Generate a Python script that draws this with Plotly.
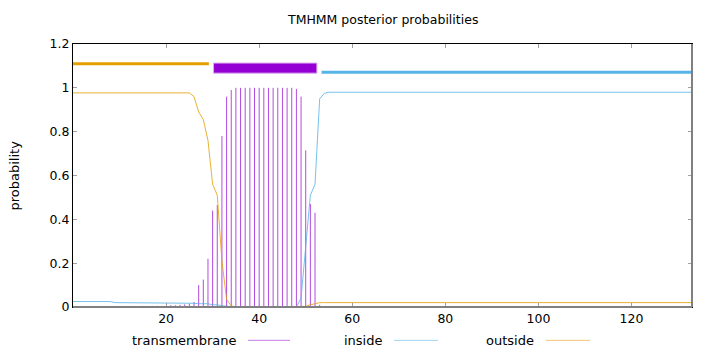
import plotly.graph_objects as go

# ---- data (positions 0..133) ----
positions = list(range(0, 134))

transmembrane = ([0.001] * 8 + [0.003] * 7 + [0.005] * 6 + [0.008] * 2 +
                 [0.01, 0.012, 0.015, 0.023, 0.10, 0.125, 0.22, 0.44, 0.465, 0.78, 0.96, 0.99] +
                 [1.0] * 13 +
                 [0.995, 0.96, 0.715, 0.47, 0.43, 0.01] +
                 [0.0] * 80)

inside = ([0.025] * 9 + [0.02] * 4 + [0.017] * 14 +
          [0.015, 0.015, 0.015, 0.01, 0.01, 0.006, 0.003, 0.001] +
          [0.0] * 14 +
          [0.04, 0.27, 0.51, 0.56, 0.95, 0.975] +
          [0.98] * 79)

outside = ([0.977] * 26 +
           [0.96, 0.89, 0.855, 0.76, 0.56, 0.51, 0.21, 0.035, 0.005] +
           [0.0] * 15 +
           [0.003, 0.01, 0.016] +
           [0.02] * 81)

# topology segments: (label, start, end)
segments = [("outside", 0, 29.2), ("TMhelix", 30.2, 52.4), ("inside", 53.4, 133)]
seg_y = {"outside": 1.11, "TMhelix": 1.09, "inside": 1.071}

x_ticks = [20, 40, 60, 80, 100, 120]
y_ticks = [0, 0.2, 0.4, 0.6, 0.8, 1, 1.2]
y_ticktext = ["0", "0.2", "0.4", "0.6", "0.8", "1", "1.2"]

PURPLE = "#9400d3"
BLUE = "#56b4e9"
ORANGE = "#e69f00"
FONT = "DejaVu Sans"

fig = go.Figure()

# impulses
ix, iy = [], []
for p, v in zip(positions, transmembrane):
    ix += [p, p, None]
    iy += [0, v, None]
fig.add_trace(go.Scatter(x=ix, y=iy, mode="lines",
                         line=dict(color=PURPLE, width=1), opacity=0.7,
                         hoverinfo="skip", showlegend=False))
fig.add_trace(go.Scatter(x=positions, y=inside, mode="lines",
                         line=dict(color=BLUE, width=1), opacity=0.8, showlegend=False))
fig.add_trace(go.Scatter(x=positions, y=outside, mode="lines",
                         line=dict(color=ORANGE, width=1), opacity=0.8, showlegend=False))

shapes = []
for label, s, e in segments:
    y = seg_y[label]
    if label == "TMhelix":
        shapes.append(dict(type="rect", xref="x", yref="y", x0=s, x1=e,
                           y0=1.067, y1=1.113, fillcolor=PURPLE,
                           line=dict(color="#dcaaf0", width=1)))
    else:
        shapes.append(dict(type="line", xref="x", yref="y", x0=s, x1=e, y0=y, y1=y,
                           line=dict(color=ORANGE if label == "outside" else BLUE, width=3)))

# gray bottom & right border
shapes.append(dict(type="line", xref="paper", yref="paper", x0=0, x1=1, y0=0, y1=0,
                   line=dict(color="#808080", width=2)))
shapes.append(dict(type="line", xref="paper", yref="paper", x0=1, x1=1, y0=0, y1=1,
                   line=dict(color="#808080", width=2)))

# legend (gnuplot style: text then sample)
legend_items = [("transmembrane", "#c77ee8", 239, 248, 290),
                ("inside", "#9fd3f2", 385, 394, 438),
                ("outside", "#f2c472", 536, 546, 590)]
annotations = []
for name, col, tx, lx0, lx1 in legend_items:
    annotations.append(dict(text=name, xref="paper", yref="paper",
                            x=(tx - 73) / 619, y=-(340 - 306.7) / 262.7,
                            xanchor="right", yanchor="middle", showarrow=False,
                            font=dict(family=FONT, size=13, color="black")))
    shapes.append(dict(type="line", xref="paper", yref="paper",
                       x0=(lx0 - 73) / 619, x1=(lx1 - 73) / 619,
                       y0=-(340 - 306.7) / 262.7, y1=-(340 - 306.7) / 262.7,
                       line=dict(color=col, width=1)))

annotations.append(dict(text="TMHMM posterior probabilities", xref="paper", yref="paper",
                        x=0.5, y=(306.7 - 20) / 262.7, xanchor="center", yanchor="middle",
                        showarrow=False, font=dict(family=FONT, size=12.5, color="black")))
annotations.append(dict(text="probability", xref="paper", yref="paper",
                        x=-(73 - 14) / 619, y=0.5, xanchor="center", yanchor="middle",
                        textangle=-90, showarrow=False,
                        font=dict(family=FONT, size=13, color="black")))

fig.update_layout(
    width=720, height=352,
    margin=dict(l=73, r=28, t=44, b=45, pad=0),
    paper_bgcolor="white", plot_bgcolor="white",
    font=dict(family=FONT, size=12.5, color="black"),
    shapes=shapes, annotations=annotations, showlegend=False,
    xaxis=dict(range=[0, 133], tickvals=x_ticks, ticks="inside", ticklen=4,
               tickcolor="#a0a0a0", showline=True, linecolor="black", linewidth=1,
               mirror="ticks", showgrid=False, zeroline=False),
    yaxis=dict(range=[0, 1.2], tickvals=y_ticks, ticktext=y_ticktext, ticks="inside",
               ticklen=4, tickcolor="#a0a0a0", showline=True, linecolor="black",
               linewidth=1, mirror="ticks", showgrid=False, zeroline=False),
)

fig.write_html("out.html")
